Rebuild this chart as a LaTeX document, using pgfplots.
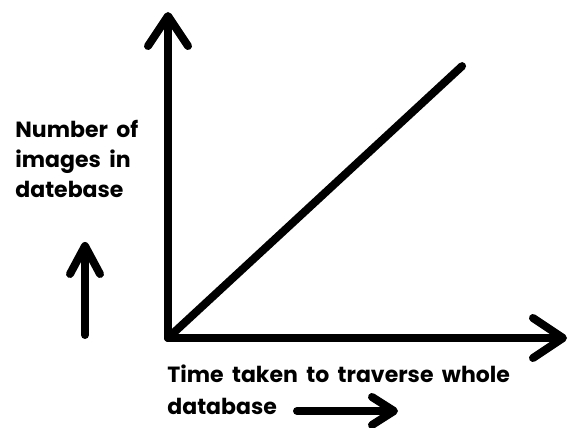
\documentclass[border=0pt]{standalone}
\usepackage{pgfplots}
\pgfplotsset{compat=1.18}
\usetikzlibrary{arrows.meta}
\usepackage{fontspec}
\setmainfont{Poppins}[WordSpace={1.8}]
\begin{document}
\begin{tikzpicture}[x=0.5pt,y=0.5pt]
\useasboundingbox (0,0) rectangle (568,428);
\begin{axis}[
  at={(84pt,45pt)}, anchor=origin,
  scale only axis, width=199.5pt, height=163pt,
  xmin=0, xmax=1, ymin=0, ymax=1,
  axis lines=left, xtick=\empty, ytick=\empty,
  axis line style={line width=4pt, line cap=round, -{Straight Barb[length=15pt,width=20pt,round]}},
  clip=false,
]
\addplot[black, line width=4pt, line cap=round] coordinates {(0,0) (0.737,0.834)};
\end{axis}
\begin{scope}[font=\fontsize{11pt}{13pt}\selectfont\bfseries]
\node[anchor=base west, inner sep=0] at (15,290) {Number of};
\node[anchor=base west, inner sep=0] at (15,260) {images in};
\node[anchor=base west, inner sep=0] at (15,230) {datebase};
\node[anchor=base west, inner sep=0] at (167,45) {Time taken to traverse whole};
\node[anchor=base west, inner sep=0] at (167,13) {database};
\end{scope}
\draw[line width=4pt, line cap=round, -{Straight Barb[length=14pt,width=15pt,round]}] (85,93) -- (85,186);
\draw[line width=4pt, line cap=round, -{Straight Barb[length=11pt,width=14pt,round]}] (297,17) -- (398,17);
\end{tikzpicture}
\end{document}
